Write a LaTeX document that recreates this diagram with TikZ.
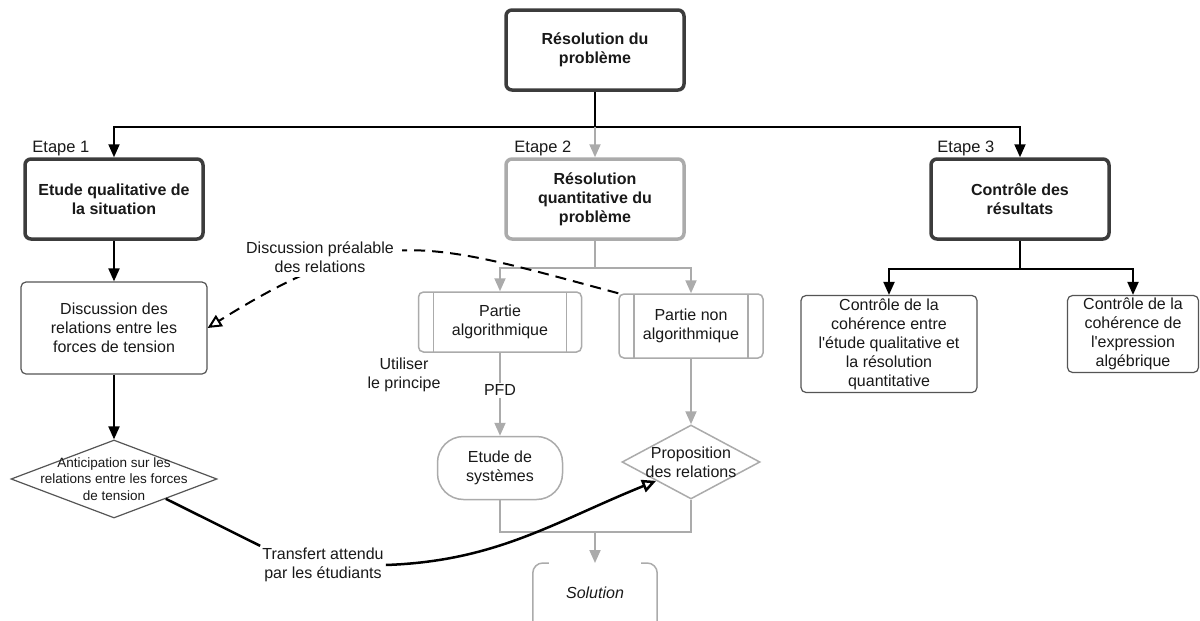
\documentclass[tikz,border=0pt]{standalone}
\usepackage{fontspec}
\setmainfont{Liberation Sans}
\usetikzlibrary{shapes.geometric, arrows.meta, positioning, calc}
\definecolor{ink}{HTML}{3C3C3C}
\definecolor{boxline}{HTML}{555555}
\definecolor{soft}{HTML}{ABABAB}

\begin{document}
\begin{tikzpicture}[x=1pt, y=-1pt,
  every node/.style={font=\fontsize{16}{19}\selectfont, text=black!90},
  stage/.style={draw=ink, line width=3.5pt, rounded corners=6pt, minimum width=178pt,
    minimum height=80pt, align=center, font=\fontsize{16}{19}\selectfont\bfseries},
  etape/.style={anchor=south west, inner sep=1pt, font=\fontsize{16.5}{18}\selectfont},
  plain/.style={draw=boxline, line width=1.2pt, rounded corners=5pt, align=center, inner sep=1pt},
  dia/.style={diamond, draw=boxline, line width=1.2pt, aspect=2.65, inner sep=0pt},
  proc/.style={draw=soft, line width=1.5pt, rounded corners=5pt, align=center,
    path picture={\draw[soft, line width=1.5pt]
      ([xshift=15pt]path picture bounding box.north west) -- ([xshift=15pt]path picture bounding box.south west)
      ([xshift=-15pt]path picture bounding box.north east) -- ([xshift=-15pt]path picture bounding box.south east);}},
  line/.style={draw=black, line width=2pt},
  arr/.style={line, -{Triangle[length=13pt, width=11pt]}},
  openarr/.style={-{Triangle[open, length=14pt, width=13pt]}},
  gline/.style={draw=soft, line width=2pt},
  garr/.style={gline, -{Triangle[length=13pt, width=11pt]}}
]
  \fill[white] (0,0) rectangle (1200,621);
  \useasboundingbox (0,0) rectangle (1200,621);

  % Root and the three stages
  \node[stage] (res) at (595,50) {Résolution du\\problème};
  \node[stage] (qual) at (114,199) {Etude qualitative de\\la situation};
  \node[stage, draw=soft] (quant) at (595,199) {Résolution\\quantitative du\\problème};
  \node[stage] (ctrl) at (1020,199) {Contrôle des\\résultats};
  \node[etape] (et1) at ([xshift=8pt]qual.north west) {Etape 1};
  \node[etape] (et2) at ([xshift=9pt]quant.north west) {Etape 2};
  \node[etape] (et3) at ([xshift=7pt]ctrl.north west) {Etape 3};

  \coordinate (fork) at ($(res.south)+(0,35)$);
  \draw[line] (res.south) -- (fork);
  \draw[arr] (fork) -| (qual.north);
  \draw[arr] (fork) -| (ctrl.north);
  \draw[garr] (fork) -- (quant.north);

  % Etape 1
  \node[plain, minimum width=186pt, minimum height=92pt] (disc) at (114,328)
    {Discussion des\\relations entre les\\forces de tension};
  \node[dia, minimum width=206pt, minimum height=78pt,
    label={[font=\fontsize{13.5}{16.7}\selectfont, align=center]center:Anticipation sur les\\relations entre les forces\\de tension}]
    (antic) at (114,479) {};
  \draw[arr] (qual.south) -- (disc.north);
  \draw[arr] (disc.south) -- (antic.north);

  % Etape 2
  \node[proc, minimum width=163pt, minimum height=60pt] (algo) at (500,322) {Partie\\algorithmique};
  \node[proc, minimum width=144pt, minimum height=64pt] (nonalgo) at (691,326) {Partie non\\algorithmique};
  \node[draw=soft, line width=1.5pt, rounded corners=26pt, minimum width=125pt, minimum height=63pt,
    align=center] (etude) at (500,468) {Etude de\\systèmes};
  \node[dia, draw=soft, line width=1.5pt, minimum width=138pt, minimum height=74pt,
    label={[align=center]center:Proposition\\des relations}] (prop) at (691,462) {};
  \node[font=\fontsize{16}{19}\selectfont\itshape, minimum width=124pt, minimum height=60pt,
    anchor=north] (sol) at (595,563) {Solution};
  \draw[soft, line width=1.5pt, rounded corners=10pt]
    ($(sol.north west)+(16,0)$) -- (sol.north west) -- ($(sol.north west)+(0,80)$);
  \draw[soft, line width=1.5pt, rounded corners=10pt]
    ($(sol.north east)+(-16,0)$) -- (sol.north east) -- ($(sol.north east)+(0,80)$);

  \coordinate (fork2) at ($(quant.south)+(0,27)$);
  \draw[gline] (quant.south) -- (fork2);
  \draw[garr] (fork2) -| (algo.north);
  \draw[garr] (fork2) -| (nonalgo.north);
  \draw[garr] (algo.south) -- node[pos=0.45, fill=white, inner sep=2pt] (pfd) {PFD} (etude.north);
  \node[align=center] (util) at (404,375) {Utiliser\\le principe};
  \draw[garr] (nonalgo.south) -- (prop.north);
  \coordinate (join) at (595,532);
  \draw[gline] (etude.south) |- (join) -| (prop.south);
  \draw[garr] (join) -- (sol.north);

  % Etape 3
  \node[plain, minimum width=176pt, minimum height=97pt] (coh1) at (889,344)
    {Contrôle de la\\cohérence entre\\l\textquotesingle étude qualitative et\\la résolution\\quantitative};
  \node[plain, minimum width=131pt, minimum height=77pt] (coh2) at (1133,334)
    {Contrôle de la\\cohérence de\\l\textquotesingle expression\\algébrique};
  \coordinate (fork3) at ($(ctrl.south)+(0,28)$);
  \draw[line] (ctrl.south) -- (fork3);
  \draw[arr] (fork3) -| (coh1.north);
  \draw[arr] (fork3) -| (coh2.north);

  % Transfer links
  \draw[line, dash pattern=on 11pt off 7pt, openarr]
    (nonalgo.north west) to[out=165, in=32, looseness=1.25] (disc.east);
  \node[align=center, fill=white, inner xsep=8pt, inner ysep=5pt] (preal) at (320,257) {Discussion préalable\\des relations};
  \node[align=center, inner sep=2pt] (transf) at (323,565) {Transfert attendu\\par les étudiants};
  \draw[line, line width=2.5pt] (antic.south east) -- (transf.north west);
  \draw[line, line width=2.5pt, openarr]
    (transf.east) to[out=2, in=202] (prop.south west);
\end{tikzpicture}
\end{document}
